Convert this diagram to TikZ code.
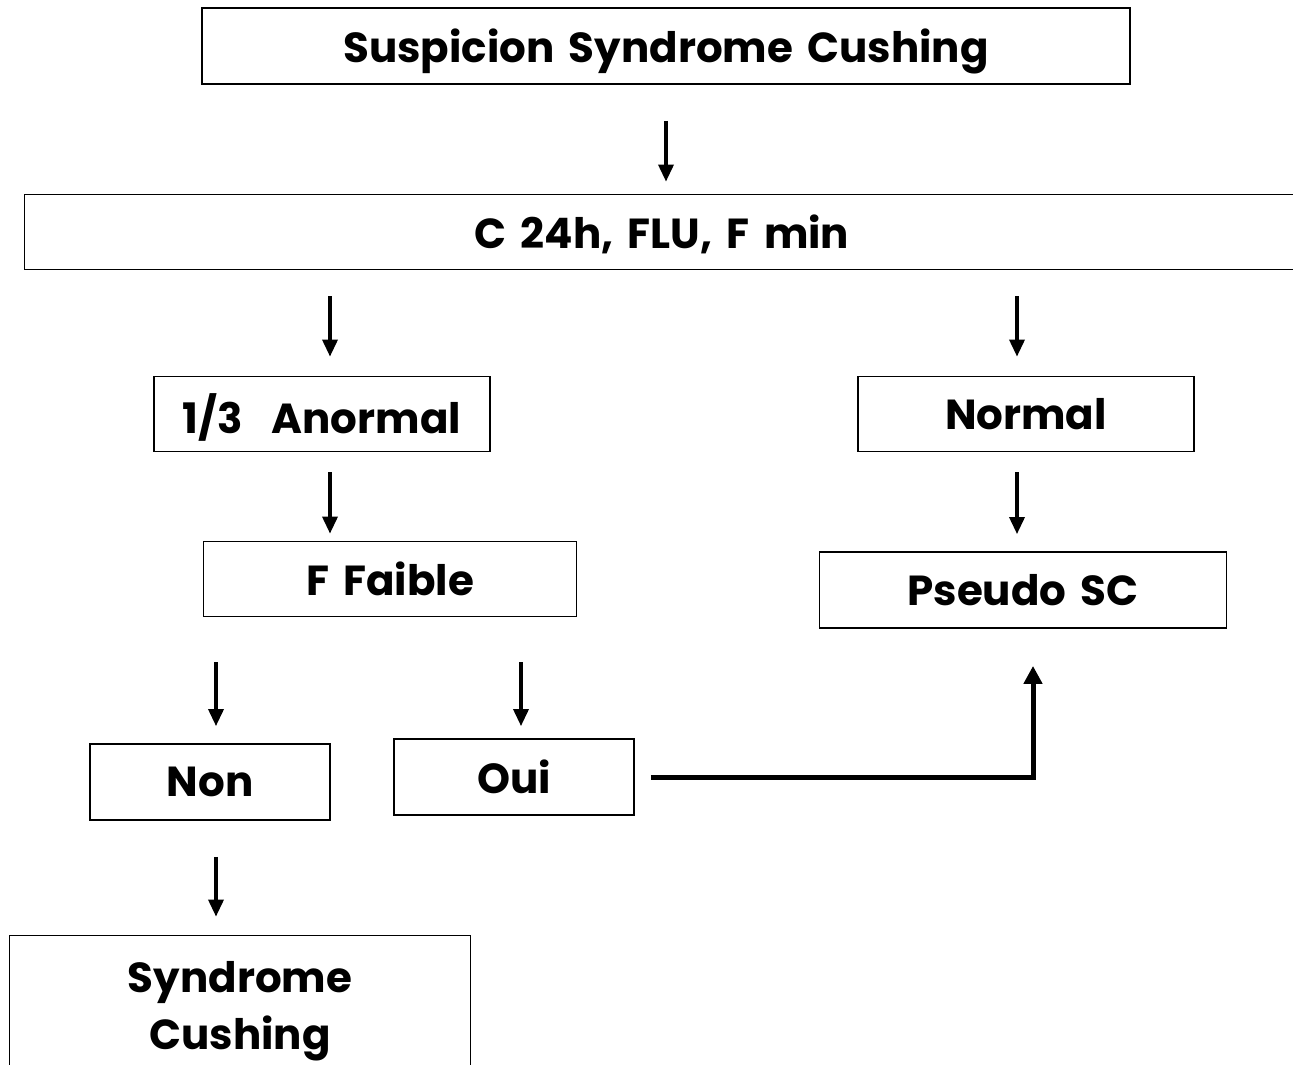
\documentclass[tikz,border=0pt]{standalone}
\usepackage{fontspec}
\setmainfont{Poppins}[WordSpace=1.6]
\usetikzlibrary{arrows.meta}

\tikzset{
  box/.style={draw, line width=1.8pt, inner sep=0pt, align=center, text depth=0pt,
    font=\fontsize{42}{57}\selectfont\bfseries},
  flow/.style={line width=3.4pt, -{Triangle[width=15pt,length=17pt]}},
  back/.style={line width=5pt, -{Triangle[width=18pt,length=18pt]}}
}

\begin{document}
\begin{tikzpicture}[x=1pt, y=-1pt]
  \useasboundingbox (0,0) rectangle (1293,1065);

  % boxes
  \node[box, minimum width=928, minimum height=76] (susp) at (666, 46) {Suspicion Syndrome Cushing};
  \node[box, minimum width=1275, minimum height=75] (c24) at (662, 232) {C 24h, FLU, F min};
  \node[box, minimum width=336, minimum height=75] (anorm) at (322, 414) {1/3\ \ Anormal};
  \node[box, minimum width=336, minimum height=75] (norm) at (1026, 414) {Normal};
  \node[box, minimum width=373, minimum height=75] (faible) at (390, 579) {F Faible};
  \node[box, minimum width=407, minimum height=76] (pseudo) at (1023, 590) {Pseudo SC};
  \node[box, minimum width=240, minimum height=76] (non) at (210, 782) {Non};
  \node[box, minimum width=240, minimum height=76] (oui) at (514, 777) {Oui};
  \node[box, minimum width=461, minimum height=139] (sc) at (240, 1005) {Syndrome\\Cushing};

  % arrows
  \draw[flow, shorten <=36pt, shorten >=12pt] (susp.south) -- (susp.south |- c24.north);
  \draw[flow, shorten <=26pt, shorten >=19pt] ([xshift=8]anorm.north |- c24.south) -- ([xshift=8]anorm.north);
  \draw[flow, shorten <=26pt, shorten >=19pt] ([xshift=-9]norm.north |- c24.south) -- ([xshift=-9]norm.north);
  \draw[flow, shorten <=20pt, shorten >=7pt] ([xshift=8]anorm.south) -- ([xshift=8]anorm.south |- faible.north);
  \draw[flow, shorten <=20pt, shorten >=17pt] ([xshift=-9]norm.south) -- ([xshift=-9]norm.south |- pseudo.north);
  \draw[flow, shorten <=45pt, shorten >=17pt] (faible.south -| non.north) ++(6,0) -- ([xshift=6]non.north);
  \draw[flow, shorten <=45pt, shorten >=12pt] (faible.south -| oui.north) ++(7,0) -- ([xshift=7]oui.north);
  \draw[flow, shorten <=36pt, shorten >=18pt] ([xshift=6]non.south) -- ([xshift=6]non.south |- sc.north);
  \draw[back, shorten <=16pt, shorten >=37pt] (oui.east) -| ([xshift=10]pseudo.south);
\end{tikzpicture}
\end{document}
